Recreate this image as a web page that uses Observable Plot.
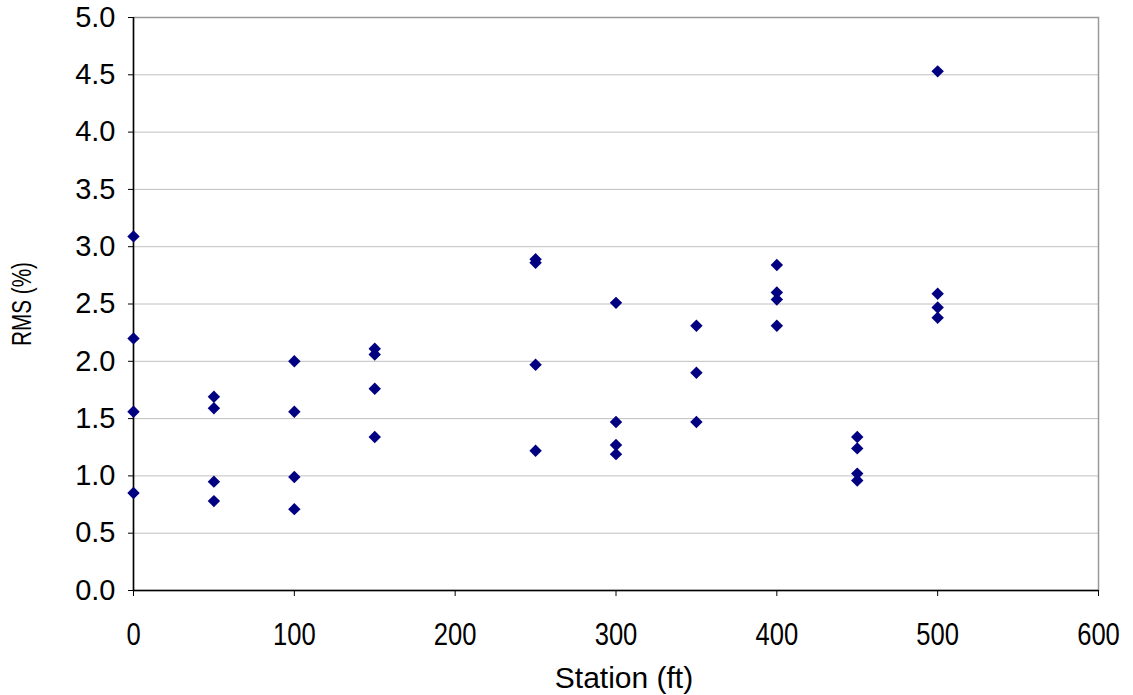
<!DOCTYPE html>
<html>
<head>
<meta charset="utf-8">
<script src="https://cdn.jsdelivr.net/npm/d3@7"></script>
<script src="https://cdn.jsdelivr.net/npm/@observablehq/plot@0.6"></script>
<style>
  html, body { margin: 0; padding: 0; background: #fff; }
  #chart svg { display: block; }
</style>
</head>
<body>
<div id="chart"></div>
<script>
const stations = [0,0,0,0, 50,50,50,50, 100,100,100,100, 150,150,150,150,
                  250,250,250,250, 300,300,300,300, 350,350,350,
                  400,400,400,400, 450,450,450,450, 500,500,500,500];
const rmsValues = [3.09,2.20,1.56,0.85, 1.69,1.59,0.95,0.78, 2.00,1.56,0.99,0.71, 2.11,2.06,1.76,1.34,
                   2.89,2.86,1.97,1.22, 2.51,1.47,1.27,1.19, 2.31,1.90,1.47,
                   2.84,2.60,2.54,2.31, 1.34,1.24,1.02,0.96, 4.53,2.59,2.47,2.38];
const xTicks = [0,100,200,300,400,500,600];
const yTicks = [0,0.5,1,1.5,2,2.5,3,3.5,4,4.5,5];

const data = stations.map((s, i) => ({station: s, rms: rmsValues[i]}));

const chart = Plot.plot({
  width: 1133,
  height: 695,
  marginLeft: 133,
  marginRight: 35,
  marginTop: 17,
  marginBottom: 105,
  style: {fontFamily: "'Liberation Sans', Arial, sans-serif", fontSize: "27px", color: "#000", background: "#fff"},
  x: {domain: [0, 600]},
  y: {domain: [0, 5]},
  marks: [
    Plot.gridY(yTicks, {stroke: "#c0c0c0", strokeOpacity: 1, strokeWidth: 1}),
    Plot.frame({stroke: "#999", strokeWidth: 1.5}),
    Plot.axisX(xTicks, {tickSize: 6, tickPadding: 26, tickFormat: d => String(d), fontSize: 32,
      label: null}),
    Plot.axisX({label: "Station (ft)", labelAnchor: "center", labelArrow: "none", labelOffset: 97,
      fontSize: 30, ticks: [], tickSize: 0}),
    Plot.axisY(yTicks, {tickSize: 5, tickPadding: 13, tickFormat: d => d.toFixed(1), fontSize: 29,
      label: null}),
    Plot.axisY({label: "RMS (%)", labelAnchor: "center", labelArrow: "none", labelOffset: 122,
      fontSize: 28, ticks: [], tickSize: 0}),
    Plot.ruleX([0], {stroke: "#000", strokeWidth: 1.5}),
    Plot.ruleY([0], {stroke: "#000", strokeWidth: 1.5}),
    Plot.dot(data, {x: "station", y: "rms", symbol: "diamond2", r: 5.6, fill: "#000080", stroke: "none", clip: false})
  ]
});
document.getElementById("chart").appendChild(chart);

// squeeze / shift some text about its own centre, like the reference's lettering
const NS = "http://www.w3.org/2000/svg";
function adjust(el, sx, sy, dx = 0, dy = 0) {
  const r = el.getBoundingClientRect();
  const pt = chart.createSVGPoint();
  pt.x = r.x + r.width / 2; pt.y = r.y + r.height / 2;
  const p = pt.matrixTransform(el.parentNode.getScreenCTM().inverse());
  const g = document.createElementNS(NS, "g");
  g.setAttribute("transform", `translate(${p.x + dx},${p.y + dy}) scale(${sx},${sy}) translate(${-p.x},${-p.y})`);
  el.parentNode.insertBefore(g, el);
  g.appendChild(el);
}
chart.querySelectorAll('[aria-label="x-axis tick label"] text').forEach(t => adjust(t, 0.8, 1));
chart.querySelectorAll('[aria-label="y-axis label"] text').forEach(t => adjust(t, 1, 0.74));
chart.querySelectorAll('[aria-label="x-axis label"] text').forEach(t => adjust(t, 1, 1, 8, 0));
</script>
</body>
</html>
